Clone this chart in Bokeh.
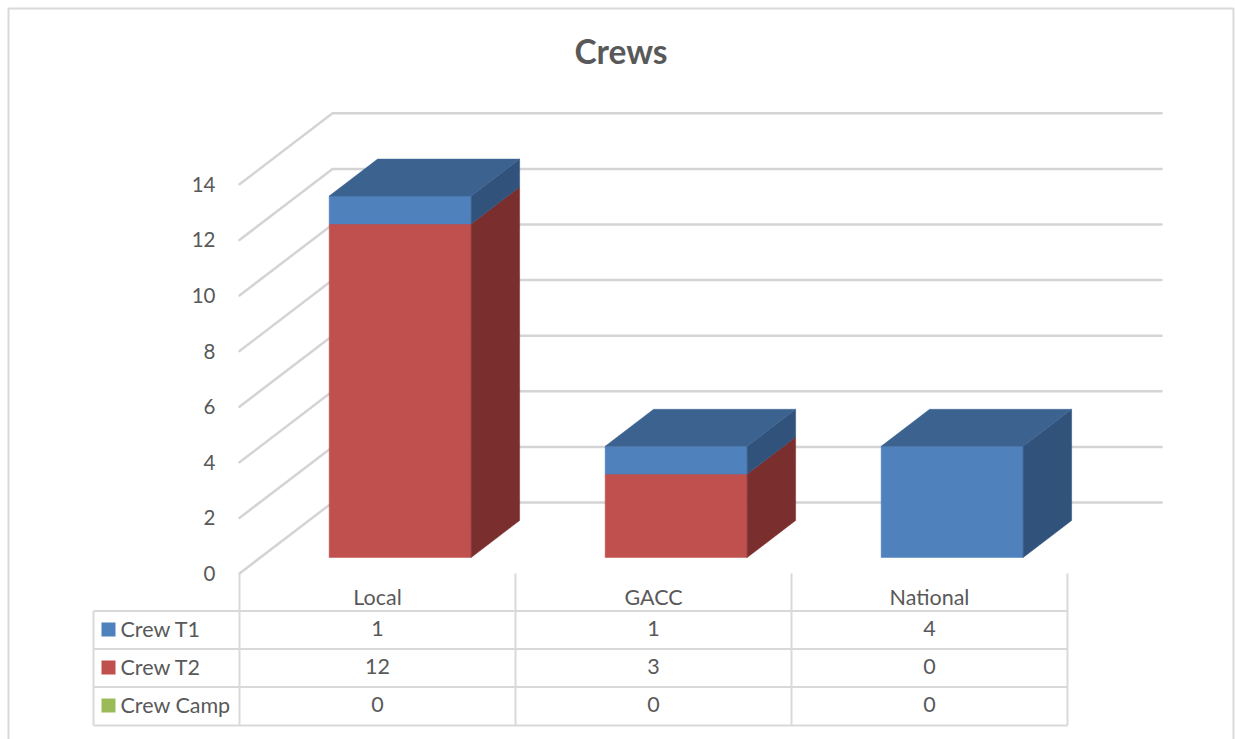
from bokeh.plotting import figure
from bokeh.embed import file_html
from bokeh.resources import INLINE
from bokeh.core.properties import value
from bokeh.models import FixedTicker

title = "Crews"
categories = ["Local", "GACC", "National"]
crew_t1 = [1, 1, 4]
crew_t2 = [12, 3, 0]
crew_camp = [0, 0, 0]
y_ticks = [0, 2, 4, 6, 8, 10, 12, 14]

FONT = "Lato"
FSIZE = "21.5px"
TEXT = "#595959"
GRID = "#D9D9D9"
WALL = "#D4D4D4"
series = [("Crew T1", crew_t1, "#4F81BD", "#3C6390", "#31527A"),
          ("Crew T2", crew_t2, "#C0504D", "#3C6390", "#7A2F2E"),
          ("Crew Camp", crew_camp, "#9BBB59", "#3C6390", "#5F7530")]
stack_order = [1, 0, 2]

W, H = 1235, 739
PX0, PY0 = 239.0, 573.0      # page pixel of category 0 / value 0
UX, UY = 276.0, 27.8         # pixels per category / per value unit
DEPTH_X, DEPTH_Y = 93 / UX, 71 / UY
BAR_D0, BAR_D1 = 16 / 71, 53 / 71
BAR_W = 142 / UX
BAR_SHIFT = 1.7 / UX


def xp(px):
    return (px - PX0) / UX


def yp(py):
    return (PY0 - py) / UY


p = figure(width=W, height=H, output_backend="svg", toolbar_location=None,
           x_range=(xp(0), xp(W)), y_range=(yp(H), yp(0)),
           min_border=0, min_border_left=0, min_border_right=0, min_border_top=0, min_border_bottom=0,
           outline_line_color=None, background_fill_color="white")
p.grid.visible = False

# y axis, inside the frame
p.yaxis.fixed_location = 0
p.yaxis.ticker = FixedTicker(ticks=y_ticks)
p.yaxis.axis_line_color = None
p.yaxis.major_tick_line_color = None
p.yaxis.minor_tick_line_color = None
p.yaxis.major_label_standoff = 18
p.yaxis.major_label_text_font = FONT
p.yaxis.major_label_text_font_size = "20.5px"
p.yaxis.major_label_text_color = TEXT

# category axis, inside the frame
p.xaxis.fixed_location = yp(577)
p.xaxis.ticker = FixedTicker(ticks=[i + 0.5 for i in range(len(categories))])
p.xaxis.major_label_overrides = {i + 0.5: c for i, c in enumerate(categories)}
p.xaxis.axis_line_color = None
p.xaxis.major_tick_line_color = None
p.xaxis.minor_tick_line_color = None
p.xaxis.major_label_standoff = 0
p.xaxis.major_label_text_font = FONT
p.xaxis.major_label_text_font_size = FSIZE
p.xaxis.major_label_text_color = TEXT

# outer frame
p.line([xp(8), xp(8), xp(1233), xp(1233)], [yp(739), yp(8), yp(8), yp(739)],
       line_color=GRID, line_width=2)

# gridlines: left wall + back wall
n = len(categories)
for v in y_ticks:
    p.line([0, DEPTH_X, n + DEPTH_X + 1 / UX], [v, v + DEPTH_Y, v + DEPTH_Y],
           line_color=WALL, line_width=2.5, line_cap="round")

# 3D stacked bars
for i in range(n):
    x0 = i + 0.5 - BAR_W / 2 + BAR_SHIFT
    ox, oy = BAR_D0 * DEPTH_X, BAR_D0 * DEPTH_Y
    dx, dy = (BAR_D1 - BAR_D0) * DEPTH_X, (BAR_D1 - BAR_D0) * DEPTH_Y
    left, right = x0 + ox, x0 + ox + BAR_W
    base = 0.0
    top_col = None
    for s in stack_order:
        _, vals, front, top, side = series[s]
        val = vals[i]
        if val == 0:
            continue
        b0, b1 = base + oy, base + val + oy
        p.patch([left, right, right, left], [b0, b0, b1, b1],
                fill_color=front, line_color=front, line_width=0.5)
        p.patch([right, right + dx, right + dx, right], [b0, b0 + dy, b1 + dy, b1],
                fill_color=side, line_color=side, line_width=0.5)
        base += val
        top_col = top
    t = base + oy
    p.patch([left, right, right + dx, left + dx], [t, t, t + dy, t + dy],
            fill_color=top_col, line_color=top_col, line_width=0.5)

# data table
row_lines = [610.5, 648.5, 686.5, 725.0]
row_mid = [629, 667, 705]
for py in row_lines:
    p.line([xp(93), n], [yp(py), yp(py)], line_color=GRID, line_width=2)
p.line([xp(93), xp(93)], [yp(610.5), yp(725)], line_color=GRID, line_width=2)
for i in range(n + 1):
    p.line([i, i], [yp(573), yp(725)], line_color=GRID, line_width=2)

for r, (name, vals, front, _, _) in enumerate(series):
    p.quad(left=xp(101), right=xp(115), top=yp(row_mid[r] - 7), bottom=yp(row_mid[r] + 7),
           fill_color=front, line_color=None)
    p.text(x=[xp(120)], y=[yp(row_mid[r] - 1)], text=[name], text_font=value(FONT),
           text_font_size=FSIZE, text_color=TEXT, text_align="left", text_baseline="middle")
    p.text(x=[i + 0.5 for i in range(n)], y=[yp(row_mid[r] - 1)] * n, text=[str(v) for v in vals],
           text_font=value(FONT), text_font_size=FSIZE, text_color=TEXT,
           text_align="center", text_baseline="middle")

p.text(x=[xp(620.5)], y=[yp(50)], text=[title], text_font=value(FONT), text_font_style="bold",
       text_font_size="33.5px", text_color=TEXT, text_align="center", text_baseline="middle")

open("out.html", "w").write(file_html(p, INLINE))
